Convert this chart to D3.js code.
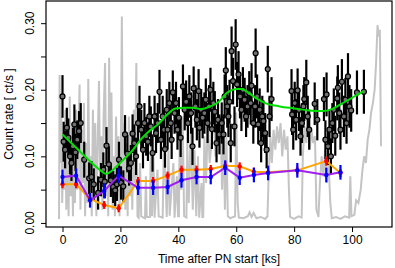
<!DOCTYPE html>
<html>
<head>
<meta charset="utf-8">
<script src="https://cdn.jsdelivr.net/npm/d3@7"></script>
<style>
  body { margin: 0; background: #fff; }
  svg text { font-family: "Liberation Sans", Arial, Helvetica, sans-serif; }
</style>
</head>
<body>
<svg width="395" height="268"></svg>
<script>
// ---- data ----

// background (grey) light curve
var bkgTime = [-1.2,-1.0,-0.7,-0.4,-0.1,0.3,0.6,1.0,1.3,1.7,2.1,2.5,2.8,3.2,3.6,4.0,4.3,4.7,5.1,5.5,5.9,6.2,6.6,7.0,7.4,7.8,8.2,8.6,8.9,9.3,9.7,10.1,10.5,10.9,11.3,11.7,12.1,12.6,13.0,13.4,13.8,14.2,14.7,15.1,15.5,15.8,16.1,16.5,16.9,17.3,17.7,18.1,18.5,18.9,19.3,19.7,20.1,20.5,20.9,21.3,21.7,22.1,22.5,22.9,23.3,23.7,24.1,24.6,25.0,25.5,25.9,
  26.3,26.8,27.2,28.5,28.8,29.1,30.2,30.5,30.9,31.4,31.8,32.8,33.2,34.6,35.0,35.6,36.0,36.6,37.0,38.3,38.7,39.5,39.9,40.2,40.5,41.0,41.5,42.0,42.8,43.1,43.6,44.3,45.0,45.6,46.2,46.8,47.2,48.0,48.3,48.6,
  49.0,49.6,50.2,50.8,51.5,52.2,52.8,53.4,54.0,54.6,55.1,55.6,56.1,56.6,57.1,58.0,59.0,59.6,60.0,60.5,60.9,62.5,64.0,64.6,65.3,66.0,67.0,68.5,70.0,70.8,71.2,71.8,72.3,72.9,73.5,74.1,74.7,75.3,75.9,76.5,77.1,77.7,78.2,78.6,80.0,81.5,82.6,83.0,83.6,84.2,84.8,85.4,86.0,86.6,87.2,87.7,88.4,88.9,89.5,90.1,90.7,91.3,91.9,92.5,93.0,94.5,96.0,97.5,99.0,99.4,99.8,100.8,101.4,102.2,103.0,103.6,104.2,104.8,105.4,106.0,106.6,107.2,107.8,108.3,108.8,109.2,109.6,110.0];
var bkgRate = [0.006,0.222,0.09,0.16,0.03,0.12,0.05,0.17,0.02,0.13,0.01,0.19,0.04,0.15,0.01,0.11,0.03,0.17,0.05,0.13,0.208,0.02,0.14,0.06,0.18,0.01,0.12,0.03,0.216,0.05,0.10,0.01,0.17,0.04,0.15,0.01,0.11,0.213,0.05,0.13,0.02,0.16,0.24,0.04,0.12,0.01,0.248,0.06,0.196,0.02,0.10,0.01,0.16,0.04,0.13,0.01,0.09,0.31,0.05,0.15,0.02,0.12,0.01,0.16,0.04,0.14,0.02,0.17,0.06,0.24,0.01,
  0.008,0.09,0.010,0.007,0.07,0.009,0.009,0.125,0.01,0.10,0.008,0.08,0.010,0.008,0.12,0.06,0.009,0.11,0.011,0.09,0.008,0.07,0.010,0.010,0.15,0.05,0.16,0.010,0.008,0.12,0.03,0.14,0.02,0.11,0.01,0.10,0.008,0.06,0.009,0.009,
  0.13,0.06,0.16,0.09,0.12,0.17,0.10,0.165,0.12,0.16,0.05,0.14,0.02,0.13,0.010,0.007,0.009,0.010,0.166,0.03,0.008,0.007,0.010,0.016,0.009,0.015,0.007,0.009,0.006,0.010,0.07,0.13,0.09,0.14,0.11,0.145,0.12,0.15,0.10,0.14,0.11,0.13,0.05,0.009,0.006,0.010,0.008,0.10,0.145,0.12,0.15,0.11,0.14,0.12,0.13,0.02,0.009,0.06,0.10,0.07,0.11,0.06,0.09,0.03,0.007,0.009,0.006,0.010,0.008,0.07,0.01,0.012,0.034,0.03,0.05,0.08,0.10,0.09,0.125,0.14,0.166,0.18,0.2,0.24,0.297,0.28,0.29,0.115];

// source light curve (black points with errors)
var srcTime = [0.0,0.4,0.9,1.5,2.0,2.6,3.1,3.6,4.1,4.5,5.1,5.7,6.3,7.5,9.2,10.0,10.8,12.3,13.3,14.1,14.6,15.2,16.0,16.7,17.5,18.2,18.8,19.5,20.2,21.0,21.6,22.4,23.0,23.6,24.2,24.8,25.4,
  26.1,26.6,27.2,27.8,28.3,28.9,29.5,30.0,30.5,31.1,31.8,32.3,32.9,33.5,34.0,34.6,35.1,35.4,36.0,36.3,36.9,37.4,37.7,38.1,38.7,39.2,39.7,40.2,40.8,41.6,42.2,42.7,43.3,43.8,44.4,44.9,45.3,45.9,46.4,47.0,47.3,47.9,48.4,49.0,49.5,50.1,50.6,51.1,51.6,52.1,52.6,53.2,53.7,54.2,
  55.0,55.6,56.0,56.4,56.9,57.3,57.7,58.1,58.4,58.9,59.4,59.8,60.3,60.8,61.3,61.8,62.3,62.9,63.4,63.9,64.5,65.0,65.3,65.9,66.5,66.7,67.2,67.6,68.1,68.6,69.0,69.4,70.0,70.5,70.9,71.5,72.2,
  79.1,79.3,79.7,80.2,80.7,81.2,81.7,82.2,82.7,83.2,83.5,84.2,84.7,85.2,87.1,88.0,90.3,90.8,91.2,91.7,92.2,92.7,93.2,93.7,94.2,94.9,95.1,95.6,96.0,96.5,97.2,97.7,98.1,98.6,99.1,99.7,101.7,104.1];
var srcRate = [0.190,0.122,0.110,0.143,0.128,0.100,0.090,0.115,0.148,0.106,0.125,0.138,0.150,0.095,0.067,0.069,0.058,0.045,0.065,0.080,0.062,0.116,0.088,0.064,0.054,0.049,0.058,0.095,0.060,0.055,0.133,0.104,0.082,0.090,0.134,0.120,0.100,
  0.150,0.175,0.140,0.110,0.150,0.130,0.122,0.160,0.145,0.105,0.160,0.135,0.150,0.197,0.125,0.160,0.140,0.111,0.170,0.140,0.180,0.150,0.125,0.196,0.165,0.180,0.140,0.158,0.128,0.205,0.170,0.182,0.150,0.190,0.165,0.115,0.202,0.175,0.155,0.198,0.143,0.170,0.158,0.165,0.185,0.150,0.175,0.200,0.141,0.180,0.167,0.120,0.155,0.133,
  0.150,0.133,0.190,0.229,0.175,0.160,0.182,0.120,0.258,0.213,0.145,0.268,0.208,0.223,0.190,0.170,0.200,0.185,0.160,0.175,0.195,0.180,0.206,0.150,0.175,0.255,0.190,0.148,0.170,0.120,0.160,0.153,0.135,0.110,0.231,0.160,0.186,
  0.198,0.163,0.140,0.180,0.155,0.199,0.170,0.130,0.150,0.175,0.186,0.211,0.160,0.140,0.179,0.155,0.186,0.125,0.193,0.115,0.140,0.100,0.150,0.170,0.131,0.187,0.203,0.165,0.140,0.212,0.160,0.185,0.150,0.220,0.175,0.169,0.196,0.197];
var srcErr = [0.032,0.030,0.028,0.030,0.029,0.027,0.027,0.028,0.030,0.028,0.029,0.030,0.030,0.027,0.024,0.024,0.024,0.025,0.025,0.026,0.025,0.028,0.027,0.025,0.024,0.024,0.025,0.027,0.025,0.024,0.029,0.028,0.026,0.027,0.029,0.028,0.028,
  0.030,0.031,0.030,0.028,0.030,0.029,0.029,0.031,0.030,0.028,0.031,0.030,0.030,0.033,0.029,0.031,0.030,0.028,0.031,0.030,0.032,0.030,0.029,0.033,0.031,0.032,0.030,0.031,0.029,0.033,0.031,0.032,0.030,0.032,0.031,0.028,0.033,0.032,0.031,0.033,0.030,0.031,0.031,0.031,0.032,0.030,0.032,0.033,0.030,0.032,0.031,0.029,0.031,0.030,
  0.031,0.030,0.033,0.035,0.032,0.031,0.033,0.029,0.037,0.035,0.030,0.038,0.034,0.035,0.033,0.032,0.034,0.033,0.031,0.032,0.033,0.032,0.034,0.031,0.032,0.037,0.033,0.030,0.032,0.029,0.031,0.031,0.030,0.028,0.035,0.031,0.033,
  0.033,0.031,0.030,0.032,0.031,0.033,0.032,0.029,0.030,0.032,0.033,0.034,0.031,0.030,0.032,0.031,0.033,0.029,0.033,0.028,0.030,0.027,0.030,0.032,0.030,0.033,0.034,0.031,0.030,0.034,0.031,0.033,0.031,0.035,0.032,0.032,0.033,0.033];

// smoothed source curve (green)
var smoothTime = [0,4,8,12,15,18,21,24,27,30,33,36,39,42,45,48,51,54,57,60,62,64,67,70,75,80,85,90,93,96,100,104];
var smoothRate = [0.133,0.116,0.099,0.083,0.074,0.082,0.095,0.108,0.125,0.138,0.148,0.162,0.172,0.173,0.173,0.171,0.175,0.182,0.196,0.201,0.201,0.196,0.187,0.180,0.175,0.172,0.169,0.168,0.171,0.178,0.188,0.198];

// binned curves (orange with red errors, purple with blue errors)
var binTime = [0,4.7,9.5,14.4,19.4,26.1,31.3,36.3,41.1,46.3,51.2,56.2,61.2,66.1,71.0,81.1,91.1,96.0];
var orangeRate = [0.058,0.058,0.036,0.027,0.022,0.063,0.063,0.071,0.080,0.080,0.081,0.086,0.085,0.077,0.076,0.079,0.093,0.075];
var orangeErr = [0.006,0.006,0.006,0.006,0.006,0.006,0.006,0.006,0.006,0.006,0.006,0.006,0.006,0.006,0.006,0.006,0.007,0.006];
var purpleRate = [0.069,0.071,0.034,0.048,0.071,0.053,0.053,0.054,0.064,0.069,0.069,0.083,0.068,0.072,0.075,0.079,0.072,0.076];
var purpleErr = [0.011,0.011,0.011,0.011,0.011,0.011,0.011,0.011,0.011,0.011,0.011,0.011,0.011,0.011,0.011,0.011,0.011,0.011];

var xTicks = [0, 20, 40, 60, 80, 100];
var yTicks = [0, 0.05, 0.10, 0.15, 0.20, 0.25, 0.30];
var yLabelTicks = [0, 0.10, 0.20, 0.30];

// ---- layout ----
var svg = d3.select("svg");
var border = { top: 1, bottom: 41, left: 46, right: 3 };
var width = +svg.attr("width") - border.left - border.right;
var height = +svg.attr("height") - border.top - border.bottom;
var g = svg.append("g").attr("transform", "translate(" + border.left + "," + border.top + ")");

var xScale = d3.scaleLinear().domain([-5.7, 113.8]).range([0, width]);
var yScale = d3.scaleLinear().domain([-0.0061, 0.3333]).range([height, 0]);

g.append("defs").append("clipPath").attr("id", "plotclip")
  .append("rect").attr("width", width).attr("height", height);
var plot = g.append("g").attr("clip-path", "url(#plotclip)");

// background curve
var bkg = bkgTime.map((t, i) => [t, bkgRate[i]]);
plot.append("path")
  .datum(bkg)
  .attr("fill", "none")
  .attr("stroke", "#c4c4c4")
  .attr("stroke-width", 2)
  .attr("d", d3.line().x(d => xScale(d[0])).y(d => yScale(d[1])));

// source points with error bars
var src = srcTime.map((t, i) => ({ t: t, r: srcRate[i], e: srcErr[i] }));
plot.selectAll("line.src")
  .data(src).enter().append("line")
  .attr("class", "src")
  .attr("x1", d => xScale(d.t)).attr("x2", d => xScale(d.t))
  .attr("y1", d => yScale(d.r - d.e)).attr("y2", d => yScale(d.r + d.e))
  .attr("stroke", "#000").attr("stroke-width", 2.2);
plot.selectAll("circle.src")
  .data(src).enter().append("circle")
  .attr("class", "src")
  .attr("cx", d => xScale(d.t)).attr("cy", d => yScale(d.r))
  .attr("r", 2.5)
  .attr("fill", "#707070").attr("stroke", "#000").attr("stroke-width", 1.2);

// smooth green curve
var smooth = smoothTime.map((t, i) => [t, smoothRate[i]]);
plot.append("path")
  .datum(smooth)
  .attr("fill", "none")
  .attr("stroke", "#00e000")
  .attr("stroke-width", 2)
  .attr("d", d3.line().curve(d3.curveMonotoneX).x(d => xScale(d[0])).y(d => yScale(d[1])));

// binned curves
function draw_binned(rates, errs, lineColor){
  var pts = binTime.map((t, i) => ({ t: t, r: rates[i], e: errs[i] }));
  plot.append("path")
    .datum(pts)
    .attr("fill", "none")
    .attr("stroke", lineColor)
    .attr("stroke-width", 2)
    .attr("d", d3.line().x(d => xScale(d.t)).y(d => yScale(d.r)));
  return pts;
}
function draw_errors(pts, errColor){
  var grp = plot.append("g");
  grp.selectAll("line")
    .data(pts).enter().append("line")
    .attr("x1", d => xScale(d.t)).attr("x2", d => xScale(d.t))
    .attr("y1", d => yScale(d.r - d.e)).attr("y2", d => yScale(d.r + d.e))
    .attr("stroke", errColor).attr("stroke-width", 2.2);
  grp.selectAll("circle")
    .data(pts).enter().append("circle")
    .attr("cx", d => xScale(d.t)).attr("cy", d => yScale(d.r))
    .attr("r", 2.2).attr("fill", errColor);
}
var orangePts = draw_binned(orangeRate, orangeErr, "#ffa500");
var purplePts = draw_binned(purpleRate, purpleErr, "#a020f0");
draw_errors(orangePts, "#ff0000");
draw_errors(purplePts, "#0000ff");

// box
g.append("rect")
  .attr("width", width).attr("height", height)
  .attr("fill", "none").attr("stroke", "#000").attr("stroke-width", 1.2);

// axes
var xAxis = d3.axisBottom(xScale).tickValues(xTicks).tickSize(5).tickPadding(3).tickFormat(d3.format("d"));
var xg = g.append("g").attr("transform", "translate(0," + height + ")").call(xAxis);
xg.select(".domain").remove();
xg.selectAll("text").attr("font-size", 12).attr("fill", "#000")
  .attr("font-family", "Liberation Sans, Arial, sans-serif");

var yAxis = d3.axisLeft(yScale).tickValues(yTicks).tickSize(5).tickFormat("");
var yg = g.append("g").call(yAxis);
yg.select(".domain").remove();

g.selectAll("text.ylab")
  .data(yLabelTicks).enter().append("text")
  .attr("class", "ylab")
  .attr("transform", d => "translate(-12," + yScale(d) + ") rotate(-90)")
  .attr("text-anchor", "middle")
  .attr("font-size", 12)
  .text(d => d3.format(".2f")(d));

// axis titles
svg.append("text")
  .attr("x", border.left + width / 2)
  .attr("y", 263)
  .attr("text-anchor", "middle")
  .attr("font-size", 12)
  .text("Time after PN start [ks]");

svg.append("text")
  .attr("transform", "translate(13," + (border.top + height / 2) + ") rotate(-90)")
  .attr("text-anchor", "middle")
  .attr("font-size", 12)
  .text("Count rate [ ct/s ]");
</script>
</body>
</html>
